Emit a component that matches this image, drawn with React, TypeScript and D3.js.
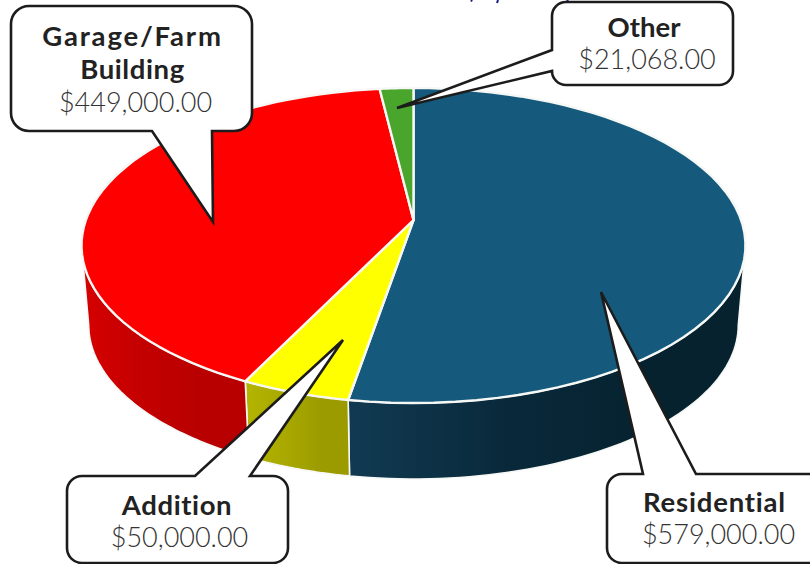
import React from "react";
import * as d3 from "d3";

// Permit totals by construction type, clockwise from twelve o'clock.
const categories = ["Residential", "Addition", "Garage/Farm Building", "Other"];
const values = [579000, 50000, 449000, 21068];
const amountLabels = ["$579,000.00", "$50,000.00", "$449,000.00", "$21,068.00"];
const topColors = ["#155a7d", "#ffff00", "#ff0000", "#4aa52c"];
const sideLeft = ["#113a52", "#b4b400", "#d60000", "#357f20"];
const sideMid = ["#09293a", "#a8a800", "#c20000", "#306f1c"];
const sideRight = ["#06222f", "#9b9b00", "#b80000", "#2c6a1a"];

const W = 810;
const H = 564;
const SANS = "Lato, 'Open Sans', sans-serif";

// Tilted-disc projection: the far rim is foreshortened relative to the near rim.
const tilt = -0.162;
const top = { cx: 413.5, cy: 220, rx: 327.6, ry: 153.4 };
const base = { cx: 413.5, cy: 300, rx: 320.5, ry: 150 };

type Disc = typeof top;
const project = (d: Disc, theta: number): [number, number] => {
  const u = Math.sin(theta);
  const v = -Math.cos(theta);
  const w = 1 + tilt * v;
  return [d.cx + (d.rx * u) / w, d.cy + (d.ry * v) / w];
};

const arcs = d3.pie<number>().sort(null)(values);

const sample = (a0: number, a1: number) =>
  d3.range(0, 61).map((i) => a0 + ((a1 - a0) * i) / 60);

const line = d3.line<[number, number]>();

const topPath = (a0: number, a1: number) =>
  line([[top.cx, top.cy], ...sample(a0, a1).map((t) => project(top, t))]) + "Z";

// The wall is bounded by the two silhouette angles of the projected rim.
const wallFrom = Math.acos(tilt);
const wallTo = 2 * Math.PI - wallFrom;
const wallPath = (a0: number, a1: number) => {
  const s = Math.max(a0, wallFrom);
  const e = Math.min(a1, wallTo);
  if (e <= s) return null;
  const ts = sample(s, e);
  return (
    line([
      ...ts.map((t) => project(top, t)),
      ...ts.slice().reverse().map((t) => project(base, t)),
    ]) + "Z"
  );
};

type Callout = {
  x0: number;
  y0: number;
  x1: number;
  y1: number;
  r: number;
  side: "top" | "bottom" | "left";
  p0: number;
  p1: number;
  tip: [number, number];
};

// Rounded box with a pointer leaving one edge and ending on the slice.
const calloutPath = ({ x0, y0, x1, y1, r, side, p0, p1, tip }: Callout) => {
  const p = d3.path();
  p.moveTo(x0 + r, y0);
  if (side === "top") {
    p.lineTo(p0, y0);
    p.lineTo(tip[0], tip[1]);
    p.lineTo(p1, y0);
  }
  p.arcTo(x1, y0, x1, y0 + r, r);
  p.arcTo(x1, y1, x1 - r, y1, r);
  if (side === "bottom") {
    p.lineTo(p1, y1);
    p.lineTo(tip[0], tip[1]);
    p.lineTo(p0, y1);
  }
  p.arcTo(x0, y1, x0, y1 - r, r);
  if (side === "left") {
    p.lineTo(x0, p1);
    p.lineTo(tip[0], tip[1]);
    p.lineTo(x0, p0);
  }
  p.arcTo(x0, y0, x0 + r, y0, r);
  p.closePath();
  return p.toString();
};

const callouts: (Callout & {
  lines: string[];
  spacing: number[];
  cx: number;
  ys: number[];
  amountX: number;
  amountY: number;
  index: number;
})[] = [
  {
    index: 2, x0: 11, y0: 6, x1: 252, y1: 131, r: 18, side: "bottom", p0: 152, p1: 212, tip: [213, 222],
    lines: ["Garage/Farm", "Building"], spacing: [1.8, 0.6], cx: 132.5, ys: [46, 79], amountX: 135.5, amountY: 112,
  },
  {
    index: 3, x0: 552, y0: 2, x1: 733, y1: 85, r: 14, side: "left", p0: 50, p1: 71, tip: [397, 108],
    lines: ["Other"], spacing: [0], cx: 644, ys: [37], amountX: 647, amountY: 69,
  },
  {
    index: 1, x0: 67, y0: 476, x1: 288, y1: 563, r: 15, side: "top", p0: 195, p1: 250, tip: [343, 340],
    lines: ["Addition"], spacing: [0.6], cx: 177, ys: [515], amountX: 179.5, amountY: 547,
  },
  {
    index: 0, x0: 607, y0: 474, x1: 825, y1: 563, r: 15, side: "top", p0: 643, p1: 696, tip: [601, 292],
    lines: ["Residential"], spacing: [0.8], cx: 714.5, ys: [512], amountX: 718.5, amountY: 544,
  },
];

// Descenders of the heading that runs off the top edge of the page.
const headingStubs: [number, number][] = [[472, 1.5], [498, 3], [568, 1.5]];

export default function App() {
  return (
    <svg
      width={W}
      height={H}
      viewBox={`0 0 ${W} ${H}`}
      style={{ position: "absolute", left: 0, top: 0, background: "#fff" }}
    >
      <defs>
        {categories.map((_, i) => {
          const s = project(top, Math.max(arcs[i].startAngle, wallFrom));
          const e = project(top, Math.min(arcs[i].endAngle, wallTo));
          const x0 = Math.min(s[0], e[0]);
          const x1 = Math.max(s[0], e[0]);
          return (
            <linearGradient key={i} id={`wall-${i}`} gradientUnits="userSpaceOnUse" x1={x0} x2={x1} y1={0} y2={0}>
              <stop offset="0%" stopColor={sideLeft[i]} />
              <stop offset="40%" stopColor={sideMid[i]} />
              <stop offset="75%" stopColor={sideRight[i]} />
              <stop offset="100%" stopColor={sideRight[i]} />
            </linearGradient>
          );
        })}
      </defs>

      {headingStubs.map(([x, h]) => (
        <line key={x} x1={x} x2={x - 1} y1={0} y2={h} stroke="#1a1a80" strokeWidth={2} />
      ))}

      {arcs.map((a, i) => {
        const d = wallPath(a.startAngle, a.endAngle);
        return d ? (
          <path key={i} d={d} fill={`url(#wall-${i})`} stroke="#f6f8f6" strokeWidth={1.6} strokeLinejoin="round" />
        ) : null;
      })}
      {arcs.map((a, i) => (
        <path
          key={i}
          d={topPath(a.startAngle, a.endAngle)}
          fill={topColors[i]}
          stroke="#f6f8f6"
          strokeWidth={2.4}
          strokeLinejoin="round"
        />
      ))}

      {callouts.map((c) => (
        <g key={c.index}>
          <path d={calloutPath(c)} fill="#fff" stroke="#1c1c1c" strokeWidth={2.6} strokeLinejoin="miter" />
          {c.lines.map((t, j) => (
            <text
              key={t}
              x={c.cx}
              y={c.ys[j]}
              textAnchor="middle"
              fontFamily={SANS}
              fontWeight={700}
              fontSize={27.5}
              letterSpacing={c.spacing[j]}
              fill="#222"
            >
              {t}
            </text>
          ))}
          <text
            x={c.amountX}
            y={c.amountY}
            textAnchor="middle"
            fontFamily={SANS}
            fontWeight={300}
            fontSize={27}
            fill="#333"
          >
            {amountLabels[c.index]}
          </text>
        </g>
      ))}
    </svg>
  );
}
